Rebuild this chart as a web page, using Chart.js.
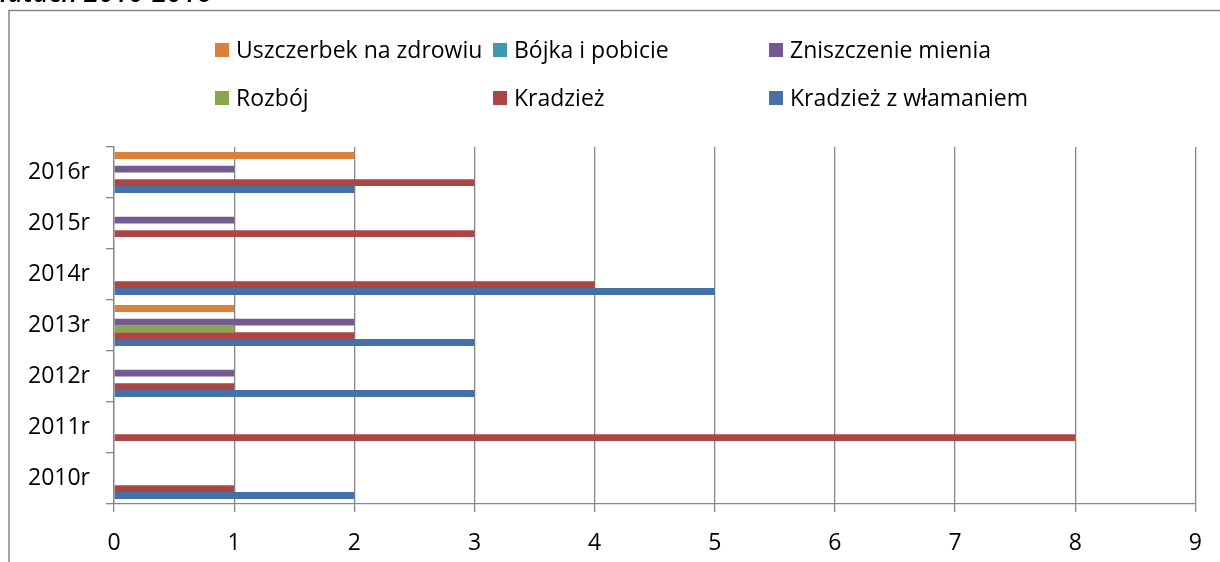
<!DOCTYPE html>
<html>
<head>
<meta charset="utf-8">
<script src="https://cdn.jsdelivr.net/npm/chart.js@4"></script>
<style>
  html, body { margin: 0; padding: 0; background: #fff; }
  #wrap { position: relative; width: 1220px; height: 562px; overflow: hidden; }
</style>
</head>
<body>
<div id="wrap"><canvas id="crimeChart"></canvas></div>
<script>
const categories = ['2010r', '2011r', '2012r', '2013r', '2014r', '2015r', '2016r'];
const uszczerbek = [0, 0, 0, 1, 0, 0, 2];
const bojka = [0, 0, 0, 0, 0, 0, 0];
const zniszczenie = [0, 0, 1, 2, 0, 1, 1];
const rozboj = [0, 0, 0, 1, 0, 0, 0];
const kradziez = [1, 8, 1, 2, 4, 3, 3];
const wlamanie = [2, 0, 3, 3, 5, 0, 2];
const xTicks = [0, 1, 2, 3, 4, 5, 6, 7, 8, 9];

const FONT = '"Open Sans"';
const GRID = '#868686';

// legend laid out on a fixed 3-column grid, like the original
const gridLegend = {
    id: 'gridLegend',
    beforeDraw(chart) {
        const ctx = chart.ctx;
        ctx.save();
        ctx.strokeStyle = '#868686';
        ctx.lineWidth = 1.5;
        ctx.strokeRect(9, 10.5, 1300, 700);
        ctx.fillStyle = '#000';
        ctx.font = 'italic 600 27px ' + FONT;
        ctx.textBaseline = 'alphabetic';
        ctx.fillText('latach 2010-2016', 0, 1.5);
        ctx.restore();
    },
    afterDraw(chart) {
        const ctx = chart.ctx;
        const cols = [215, 493, 769];
        const rows = [50, 98];
        ctx.save();
        ctx.font = '23px ' + FONT;
        ctx.textBaseline = 'middle';
        chart.data.datasets.forEach((ds, i) => {
            const x = cols[i % 3];
            const y = rows[Math.floor(i / 3)];
            ctx.fillStyle = ds.backgroundColor;
            ctx.fillRect(x, y - 7, 14, 14);
            ctx.fillStyle = '#000';
            ctx.fillText(ds.label, x + 21, y + 1);
        });
        ctx.restore();
    }
};

const ctx = document.getElementById('crimeChart').getContext('2d');
const crimeChart = new Chart(ctx, {
    type: 'bar',
    data: {
        labels: categories,
        datasets: [
            { label: 'Uszczerbek na zdrowiu', data: uszczerbek, backgroundColor: '#DC8139' },
            { label: 'Bójka i pobicie', data: bojka, backgroundColor: '#4198AF' },
            { label: 'Zniszczenie mienia', data: zniszczenie, backgroundColor: '#745A91' },
            { label: 'Rozbój', data: rozboj, backgroundColor: '#88A64E' },
            { label: 'Kradzież', data: kradziez, backgroundColor: '#AA4643' },
            { label: 'Kradzież z włamaniem', data: wlamanie, backgroundColor: '#4571A8' }
        ]
    },
    options: {
        indexAxis: 'y',
        responsive: true,
        maintainAspectRatio: false,
        animation: false,
        datasets: {
            bar: { categoryPercentage: 0.8, barPercentage: 1, borderWidth: 0 }
        },
        layout: { padding: { top: 147, right: 23, left: 0, bottom: 0 } },
        plugins: {
            legend: { display: false },
            tooltip: { enabled: false }
        },
        scales: {
            x: {
                min: 0,
                max: 9,
                afterBuildTicks(scale) {
                    scale.ticks = xTicks.map(v => ({ value: v }));
                },
                afterFit(scale) { scale.height = 58; },
                grid: { color: GRID, tickLength: 8, lineWidth: 1.3 },
                border: { color: GRID, width: 1.3 },
                ticks: { color: '#000', padding: 18, font: { family: FONT, size: 23 } }
            },
            y: {
                reverse: true,
                offset: true,
                afterFit(scale) { scale.width = 114; },
                grid: { offset: true, drawOnChartArea: false, color: GRID, tickLength: 8, lineWidth: 1.3 },
                border: { color: GRID, width: 1.3 },
                ticks: { color: '#000', padding: 16, font: { family: FONT, size: 23 } }
            }
        }
    },
    plugins: [gridLegend]
});
</script>
</body>
</html>
